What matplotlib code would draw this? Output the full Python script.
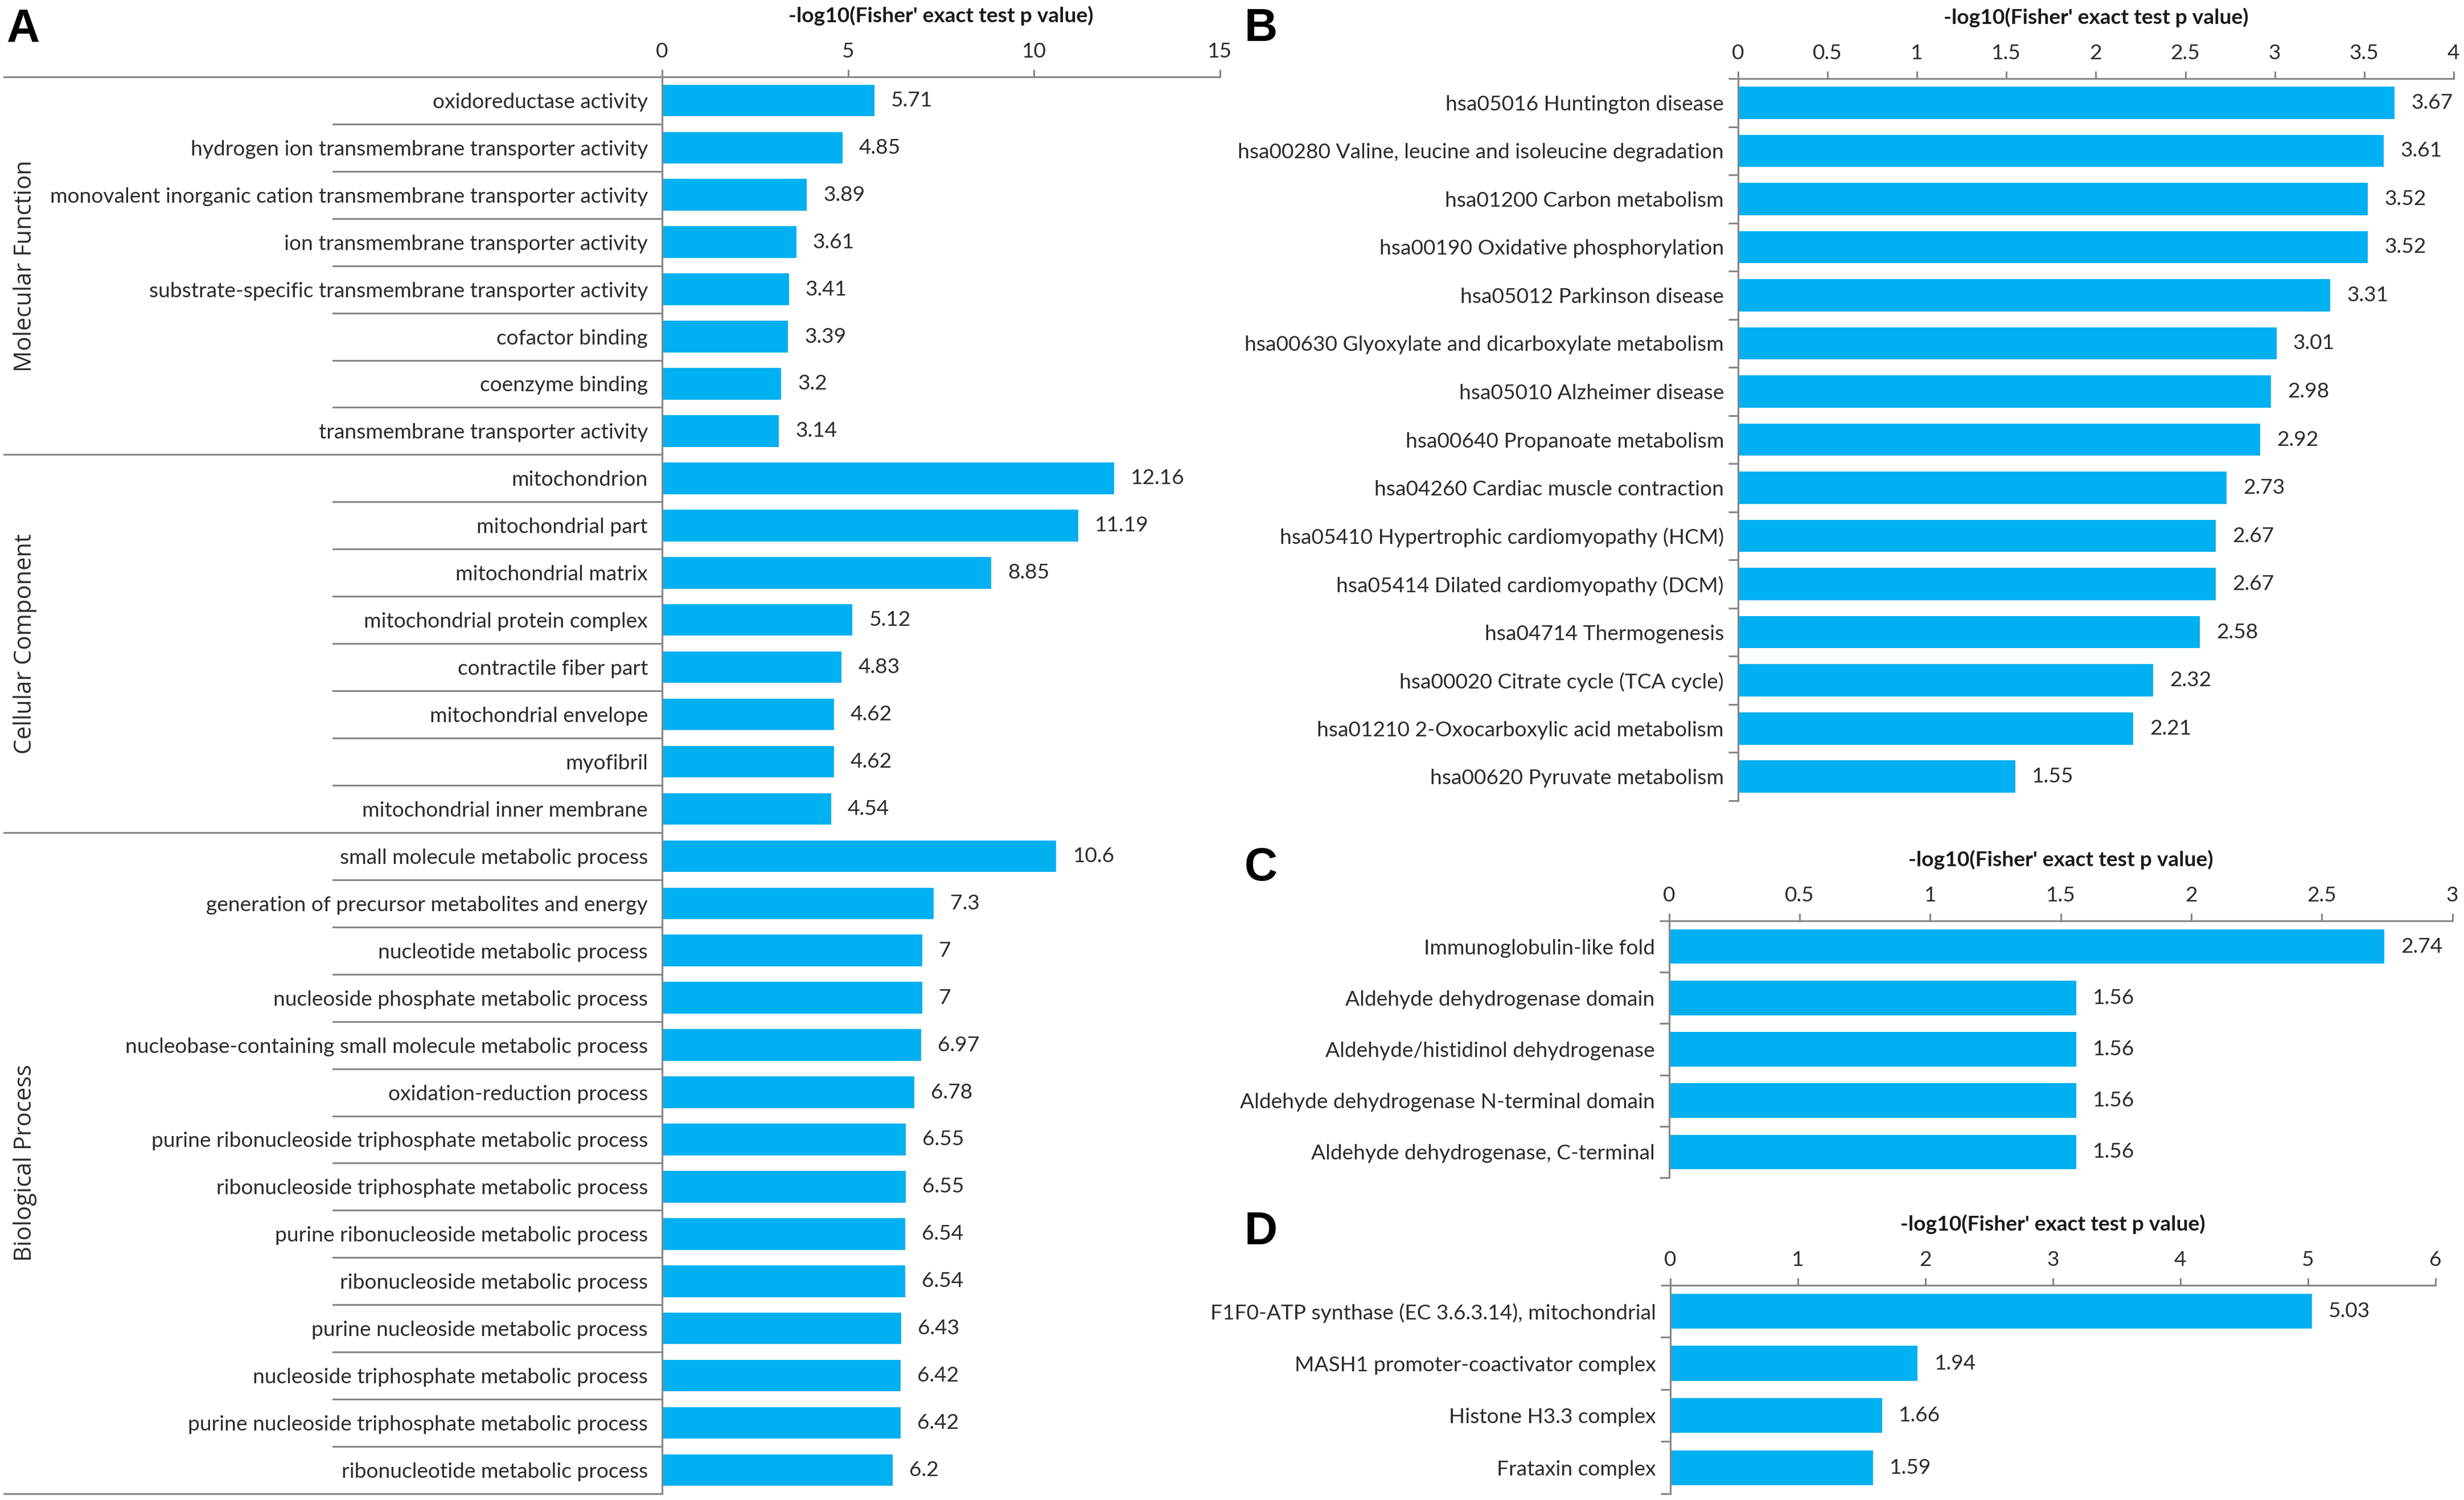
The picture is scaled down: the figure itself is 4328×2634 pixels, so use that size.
import numpy as np
import matplotlib
matplotlib.use('Agg')
import matplotlib.pyplot as plt
from matplotlib.ticker import FuncFormatter

# panel A: GO terms
mf_terms = ["oxidoreductase activity",
            "hydrogen ion transmembrane transporter activity",
            "monovalent inorganic cation transmembrane transporter activity",
            "ion transmembrane transporter activity",
            "substrate-specific transmembrane transporter activity",
            "cofactor binding",
            "coenzyme binding",
            "transmembrane transporter activity"]
mf_vals = [5.71, 4.85, 3.89, 3.61, 3.41, 3.39, 3.2, 3.14]

cc_terms = ["mitochondrion", "mitochondrial part", "mitochondrial matrix",
            "mitochondrial protein complex", "contractile fiber part",
            "mitochondrial envelope", "myofibril", "mitochondrial inner membrane"]
cc_vals = [12.16, 11.19, 8.85, 5.12, 4.83, 4.62, 4.62, 4.54]

bp_terms = ["small molecule metabolic process",
            "generation of precursor metabolites and energy",
            "nucleotide metabolic process",
            "nucleoside phosphate metabolic process",
            "nucleobase-containing small molecule metabolic process",
            "oxidation-reduction process",
            "purine ribonucleoside triphosphate metabolic process",
            "ribonucleoside triphosphate metabolic process",
            "purine ribonucleoside metabolic process",
            "ribonucleoside metabolic process",
            "purine nucleoside metabolic process",
            "nucleoside triphosphate metabolic process",
            "purine nucleoside triphosphate metabolic process",
            "ribonucleotide metabolic process"]
bp_vals = [10.6, 7.3, 7, 7, 6.97, 6.78, 6.55, 6.55, 6.54, 6.54, 6.43, 6.42, 6.42, 6.2]

groups = ["Molecular Function", "Cellular Component", "Biological Process"]

# panel B: KEGG
kegg_terms = ["hsa05016 Huntington disease",
              "hsa00280 Valine, leucine and isoleucine degradation",
              "hsa01200 Carbon metabolism",
              "hsa00190 Oxidative phosphorylation",
              "hsa05012 Parkinson disease",
              "hsa00630 Glyoxylate and dicarboxylate metabolism",
              "hsa05010 Alzheimer disease",
              "hsa00640 Propanoate metabolism",
              "hsa04260 Cardiac muscle contraction",
              "hsa05410 Hypertrophic cardiomyopathy (HCM)",
              "hsa05414 Dilated cardiomyopathy (DCM)",
              "hsa04714 Thermogenesis",
              "hsa00020 Citrate cycle (TCA cycle)",
              "hsa01210 2-Oxocarboxylic acid metabolism",
              "hsa00620 Pyruvate metabolism"]
kegg_vals = [3.67, 3.61, 3.52, 3.52, 3.31, 3.01, 2.98, 2.92, 2.73, 2.67, 2.67, 2.58, 2.32, 2.21, 1.55]

# panel C: domains
dom_terms = ["Immunoglobulin-like fold", "Aldehyde dehydrogenase domain",
             "Aldehyde/histidinol dehydrogenase",
             "Aldehyde dehydrogenase N-terminal domain",
             "Aldehyde dehydrogenase, C-terminal"]
dom_vals = [2.74, 1.56, 1.56, 1.56, 1.56]

# panel D: complexes
cplx_terms = ["F1F0-ATP synthase (EC 3.6.3.14), mitochondrial",
              "MASH1 promoter-coactivator complex",
              "Histone H3.3 complex", "Frataxin complex"]
cplx_vals = [5.03, 1.94, 1.66, 1.59]

xlabel = "-log10(Fisher' exact test p value)"

BAR = '#00B0F0'
AXC = '#868686'
TXT = '#2b2b2b'
FONT = 'Lato'
FS = 13.35

fig = plt.figure(figsize=(21.64, 13.17), dpi=200)


def draw_panel(rect, labels, values, xmax, step, yticks=True):
    ax = fig.add_axes(rect)
    n = len(labels)
    y = np.arange(n)
    ax.barh(y, values, height=0.67, color=BAR)
    ax.set_ylim(n - 0.5, -0.5)
    ax.set_xlim(0, xmax)
    ax.xaxis.tick_top()
    ax.set_xticks(np.arange(0, xmax + step / 2, step))
    ax.xaxis.set_major_formatter(FuncFormatter(lambda v, p: '{:g}'.format(v)))
    ax.tick_params(axis='x', direction='out', length=4.7, width=1.1, color=AXC,
                   labelsize=FS, labelcolor=TXT, pad=5.5)
    ax.set_yticks(y)
    ax.set_yticklabels(labels, fontsize=FS, color=TXT, family=FONT)
    ax.tick_params(axis='y', length=0, pad=9)
    ax.set_yticks(np.arange(-0.5, n, 1), minor=True)
    ax.tick_params(axis='y', which='minor', length=6 if yticks else 0, width=1.1, color=AXC)
    for lab in ax.get_xticklabels():
        lab.set_family(FONT)
    for s in ['right', 'bottom']:
        ax.spines[s].set_visible(False)
    for s in ['top', 'left']:
        ax.spines[s].set_color(AXC)
        ax.spines[s].set_linewidth(1.1)
    for yi, v in zip(y, values):
        ax.annotate('{:g}'.format(v), (v, yi), xytext=(10.5, 0), textcoords='offset points',
                    va='center', ha='left', fontsize=FS, color=TXT, family=FONT)
    ax.annotate(xlabel, (0.5, 1), xycoords='axes fraction', xytext=(0, 38.5),
                textcoords='offset points', ha='center', va='center',
                fontsize=FS, fontweight='bold', color='#1a1a1a', family=FONT)
    return ax


# panel A
a_terms = mf_terms + cc_terms + bp_terms
a_vals = mf_vals + cc_vals + bp_vals
axA = draw_panel([0.2687, 0.00418, 0.2264, 0.9446], a_terms, a_vals, 15, 5, yticks=False)
sizes = [len(mf_terms), len(cc_terms), len(bp_terms)]
tr = axA.get_yaxis_transform()
edges = np.concatenate([[0], np.cumsum(sizes)]) - 0.5
for e in edges:
    axA.plot([-1.18, 0], [e, e], transform=tr, color=AXC, lw=1.1, clip_on=False)
for i in range(len(a_terms)):
    if i + 0.5 not in edges:
        axA.plot([-0.59, 0], [i + 0.5, i + 0.5], transform=tr, color=AXC, lw=1.1, clip_on=False)
for g, lo, hi in zip(groups, edges[:-1], edges[1:]):
    axA.text(-1.142, (lo + hi) / 2, g, transform=tr, rotation=90, ha='center', va='center',
             fontsize=15, color=TXT, family='Open Sans')

draw_panel([0.7054, 0.4662, 0.2904, 0.4814], kegg_terms, kegg_vals, 4, 0.5)
draw_panel([0.6774, 0.2149, 0.3179, 0.1712], dom_terms, dom_vals, 3, 0.5)
draw_panel([0.6779, 0.00418, 0.3105, 0.1390], cplx_terms, cplx_vals, 6, 1)

for letter, x, y in [('A', 0.0028, 0.995), ('B', 0.505, 0.995),
                     ('C', 0.505, 0.4355), ('D', 0.505, 0.1929)]:
    fig.text(x, y, letter, ha='left', va='top', fontsize=29, fontweight='bold',
             family='Liberation Sans', color='black')

fig.savefig('out.png', dpi=200, facecolor='white')
